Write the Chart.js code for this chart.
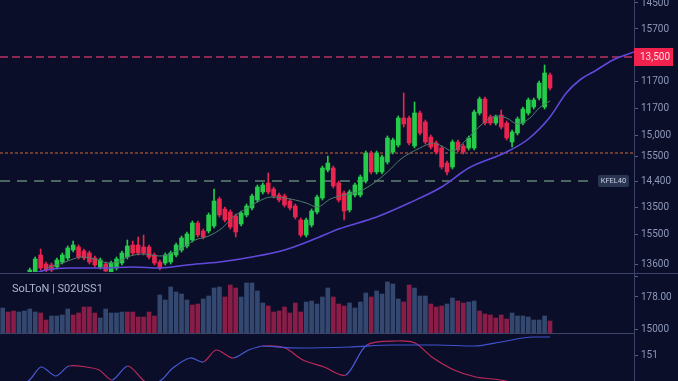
<!DOCTYPE html>
<html>
<head>
<meta charset="utf-8">
<script src="https://cdn.jsdelivr.net/npm/chart.js@4.4.1/dist/chart.umd.min.js"></script>
<style>
  html, body { margin: 0; padding: 0; background: #0a0e28; }
  #wrap { position: relative; width: 678px; height: 381px; overflow: hidden; background: #0a0e28; }
  canvas { position: absolute; left: 0; }
</style>
</head>
<body>
<div id="wrap">
  <canvas id="main" style="top:0" width="678" height="274"></canvas>
  <canvas id="vol" style="top:274px" width="678" height="60"></canvas>
  <canvas id="osc" style="top:334px" width="678" height="47"></canvas>
</div>
<script>
// ---- data ----
const slotCount = 117;     // slots on the time axis (incl. empty space on the right)
const firstCandle = 5;     // first slot that has a visible candle

const open = [
  12980, 12990, 13170, 13080, 13070, 13050, 13100, 13140, 13220, 13250,
  13210, 13190, 13140, 13050, 13080, 13000, 13040, 13090, 13150, 13270,
  13270, 13250, 13250, 13170, 13100, 13090, 13100, 13170, 13220, 13260,
  13320, 13490, 13410, 13410, 13460, 13730, 13630, 13600, 13560, 13480,
  13570, 13640, 13720, 13800, 13890, 13830, 13770, 13760, 13710, 13660,
  13520, 13370, 13470, 13600, 13740, 14020, 14040, 13890, 13790, 13620,
  13770, 13770, 13910, 14190, 14000, 14000, 14100, 14200, 14270, 14540,
  14540, 14260, 14590, 14500, 14350, 14290, 14240, 14090, 14050, 14300,
  14260, 14240, 14240, 14590, 14730, 14550, 14490, 14570, 14490, 14300,
  14390, 14490, 14590, 14650, 14740, 14650, 14970
];
const close = [
  13020, 13130, 13040, 13020, 13020, 13120, 13170, 13240, 13270, 13150,
  13140, 13100, 13070, 13120, 13010, 13090, 13130, 13190, 13260, 13190,
  13190, 13190, 13150, 13090, 13040, 13170, 13190, 13270, 13340, 13380,
  13490, 13370, 13350, 13570, 13710, 13570, 13520, 13450, 13400, 13590,
  13660, 13760, 13850, 13870, 13800, 13760, 13720, 13670, 13640, 13550,
  13370, 13520, 13610, 13750, 14040, 14090, 13860, 13720, 13610, 13800,
  13870, 13950, 14190, 14000, 14190, 14150, 14340, 14320, 14540, 14480,
  14290, 14590, 14390, 14300, 14250, 14200, 14050, 14000, 14300, 14220,
  14200, 14340, 14600, 14730, 14490, 14490, 14550, 14450, 14340, 14400,
  14530, 14630, 14720, 14720, 14890, 14990, 14840
];
const high = [
  13040, 13150, 13230, 13100, 13090, 13140, 13190, 13260, 13310, 13270,
  13230, 13210, 13160, 13140, 13100, 13110, 13150, 13210, 13320, 13310,
  13350, 13370, 13270, 13190, 13120, 13190, 13210, 13290, 13360, 13400,
  13510, 13510, 13430, 13590, 13830, 13750, 13650, 13620, 13580, 13610,
  13680, 13780, 13870, 13890, 13990, 13850, 13790, 13780, 13730, 13680,
  13540, 13540, 13630, 13770, 14060, 14160, 14060, 13910, 13810, 13820,
  13890, 13970, 14210, 14210, 14210, 14170, 14360, 14340, 14560, 14790,
  14560, 14700, 14610, 14520, 14370, 14310, 14260, 14110, 14320, 14320,
  14280, 14360, 14620, 14750, 14750, 14570, 14570, 14620, 14510, 14420,
  14550, 14650, 14740, 14740, 14910, 15070, 14990
];
const low = [
  12960, 12970, 13020, 13000, 13000, 13030, 13080, 13120, 13200, 13130,
  13120, 13080, 13050, 13030, 12990, 12980, 13020, 13070, 13130, 13170,
  13170, 13170, 13130, 13070, 13020, 13070, 13080, 13150, 13200, 13240,
  13300, 13350, 13330, 13390, 13440, 13550, 13500, 13430, 13350, 13460,
  13550, 13620, 13700, 13780, 13780, 13740, 13700, 13650, 13620, 13530,
  13350, 13350, 13450, 13580, 13720, 14000, 13840, 13700, 13520, 13600,
  13750, 13750, 13890, 13980, 13980, 13980, 14080, 14180, 14250, 14450,
  14270, 14240, 14370, 14280, 14230, 14180, 14030, 13970, 14030, 14200,
  14180, 14220, 14220, 14570, 14470, 14470, 14470, 14430, 14320, 14250,
  14370, 14470, 14570, 14630, 14720, 14630, 14820
];

// moving averages (slot, price)
const maFastX = [8, 10.5, 12.5, 14.5, 17, 19.5, 21, 23.5, 26, 29, 32.5, 35.5, 38, 40.5, 42.5, 44.5, 47, 49.5, 52, 54,
                 56, 58, 60.5, 63, 66, 68.5, 71, 73.5, 77, 79.5, 81, 83, 85.5, 88.5, 91, 93, 95, 97.5, 99, 101];
const maFastY = [13040, 13080, 13120, 13150, 13130, 13090, 13100, 13160, 13180, 13160, 13220, 13320, 13360, 13440, 13550, 13620, 13700, 13750, 13740, 13720,
                 13690, 13650, 13730, 13770, 13810, 13890, 14000, 14130, 14240, 14290, 14260, 14210, 14320, 14480, 14560, 14540, 14480, 14550, 14640, 14710];
const maSlowX = [4, 6, 8, 12, 18, 24, 29, 34, 40, 46, 52, 58, 62, 69, 75, 81, 86, 93, 97, 101, 104, 106.5, 109.6, 112.6, 116.5];
const maSlowY = [12970, 12990, 13020, 13040, 13040, 13050, 13040, 13070, 13100, 13150, 13220, 13340, 13430, 13550, 13690, 13850, 14040, 14200, 14330, 14550, 14790, 14920, 15020, 15120, 15200];

// horizontal levels
const levelPrices = [15150, 14190, 13910];
const levelEnds = [116.5, 116.5, 108.4];
const levelBoxLabel = '13,500';
const levelTagLabel = 'KFEL40';

// price axis
const priceTicks = [15690, 15430, 15150, 14910, 14640, 14370, 14160, 13910, 13650, 13380, 13080];
const priceLabels = ['14500', '15700', '', '11700', '11700', '15,000', '15500', '14,400', '13500', '15500', '13600'];

// volume pane
const volume = [
  25000, 21000, 22000, 21000, 22000, 24000, 21000, 20000, 13000, 17000,
  17000, 18000, 24000, 18000, 20000, 26000, 26000, 20000, 15000, 24000,
  20000, 20000, 21000, 21000, 21000, 16000, 16000, 21000, 17000, 38000,
  33000, 46000, 41000, 39000, 33000, 28000, 29000, 34000, 37000, 45000,
  46000, 36000, 48000, 45000, 36000, 50000, 50000, 42000, 30000, 27000,
  21000, 22000, 26000, 20000, 30000, 21000, 31000, 32000, 29000, 36000,
  45000, 36000, 29000, 27000, 30000, 25000, 31000, 40000, 36000, 42000,
  39000, 51000, 49000, 34000, 31000, 48000, 45000, 37000, 37000, 29000,
  26000, 27000, 29000, 35000, 32000, 30000, 31000, 32000, 22000, 19000,
  18000, 15000, 18000, 14000, 20000, 17000, 17000, 16000, 13000, 13000,
  17000, 12000
];
// 1 = buy (blue), 0 = sell (red)
const volumeUp = [
  1, 0, 0, 1, 1, 1, 1, 0, 0, 1,
  1, 1, 1, 0, 0, 0, 0, 0, 1, 1,
  1, 1, 1, 0, 0, 0, 0, 0, 0, 1,
  1, 1, 1, 1, 1, 0, 0, 1, 1, 1,
  1, 0, 0, 0, 1, 1, 1, 1, 1, 0,
  0, 0, 0, 0, 0, 0, 1, 1, 1, 1,
  1, 0, 0, 0, 1, 1, 1, 1, 0, 1,
  1, 1, 1, 1, 0, 0, 1, 1, 1, 0,
  0, 0, 1, 1, 0, 0, 1, 1, 0, 0,
  0, 0, 0, 0, 1, 1, 1, 1, 1, 1,
  1, 0
];
const volTicks = [57000, 36000, 4000];
const volLabels = ['', '178.00', '15000'];
const volTitle = 'SoLToN | S02USS1';

// oscillator pane
const oscX = [0, 4.7, 7.1, 9.8, 12.2, 15.4, 17.8, 20.2, 23.1, 25.9, 27.5, 29.5, 31.4, 34.6, 37, 39.4, 42.5, 45.4, 48.2, 52.1,
              55.4, 59.3, 63.3, 67.2, 72.9, 76.1, 79.2, 83.3, 87.3, 91.9, 95];
const oscY = [-8, 0, 14, 5, 15, 14, 11, 1, 15, 1, -4, 2, 13, 23, 19, 31, 23, 31, 35, 33,
              21, 14, 6, 36, 40, 38, 24, 11, 4, 1, -3];
// colour of the segment that starts at each point: 1 = red, 0 = blue
const oscRed = [0, 0, 0, 0, 1, 1, 1, 0, 1, 1, 0, 0, 0, 0, 1, 1, 0, 0, 1, 1,
                1, 1, 0, 1, 1, 1, 1, 1, 1, 1, 1];
const sigX = [48, 55, 64, 72, 80, 87, 92, 96, 98, 101];
const sigY = [35, 33, 34, 36, 36, 35, 39, 43, 44, 44];
const oscTicks = [26];
const oscLabels = ['151'];

// ---- styling ----
const GREEN = '#25cc4b', RED = '#e8244f';
const AXIS = '#3b4468', TICK_TXT = '#8e98ba';
const FONT = { family: 'Roboto', size: 10 };

function rightAxis(min, max, ticks, labels) {
  return {
    position: 'right', min: min, max: max,
    afterBuildTicks: s => { s.ticks = ticks.map(v => ({ value: v })); },
    afterFit: s => { s.width = 44; s.paddingTop = 0; s.paddingBottom = 0; },
    ticks: { autoSkip: false, color: TICK_TXT, font: FONT, padding: 3, callback: (v, i) => labels[i] },
    grid: { drawOnChartArea: false, drawTicks: true, tickLength: 4, color: '#56608a' },
    border: { display: true, color: AXIS }
  };
}
const xAxis = { type: 'linear', min: -0.5, max: slotCount - 0.5, display: false, offset: false };
const base = {
  responsive: false, animation: false, events: [],
  plugins: { legend: { display: false }, tooltip: { enabled: false } }
};

const pts = (xs, ys) => xs.map((x, i) => ({ x: x, y: ys[i] }));
const candleCol = open.map((o, i) => close[i] >= o ? GREEN : RED);

// ---- main price pane ----
const levelStyles = [
  { color: '#b9335f', dash: [8, 4], width: 1.3 },
  { color: '#cf6639', dash: [3, 2], width: 1 },
  { color: '#62827a', dash: [10, 7], width: 1.5 }
];
const levelSets = levelPrices.map((p, i) => ({
  type: 'line', data: [{ x: -0.5, y: p }, { x: levelEnds[i], y: p }],
  borderColor: levelStyles[i].color, borderDash: levelStyles[i].dash, borderWidth: levelStyles[i].width,
  pointRadius: 0, order: 6
}));

const mainDecor = {
  id: 'mainDecor',
  afterDraw(chart) {
    const ctx = chart.ctx, y = chart.scales.y, right = chart.chartArea.right;
    ctx.save();
    // separator + axis line down to pane edge
    ctx.strokeStyle = AXIS; ctx.lineWidth = 1;
    ctx.beginPath(); ctx.moveTo(0, 273.5); ctx.lineTo(678, 273.5);
    ctx.moveTo(right + 0.5, chart.chartArea.bottom); ctx.lineTo(right + 0.5, 274); ctx.stroke();
    // current price box
    const yb = y.getPixelForValue(levelPrices[0]);
    ctx.fillStyle = '#f2224f';
    ctx.fillRect(right, yb - 9, 39, 18);
    ctx.fillStyle = '#ffd9e0'; ctx.font = '10px Roboto'; ctx.textBaseline = 'middle'; ctx.textAlign = 'left';
    ctx.fillText(levelBoxLabel, right + 6, yb + 0.5);
    // level tag
    const yt = y.getPixelForValue(levelPrices[2]);
    ctx.fillStyle = '#2a3552';
    ctx.beginPath(); ctx.roundRect(598, yt - 6, 31, 12, 2); ctx.fill();
    ctx.fillStyle = '#c9d2e6'; ctx.font = '7.5px Roboto'; ctx.textAlign = 'center';
    ctx.fillText(levelTagLabel, 613.5, yt + 0.5);
    ctx.restore();
  }
};

new Chart(document.getElementById('main'), {
  type: 'bar',
  data: {
    datasets: [
      ...levelSets,
      { type: 'bar', data: open.map((o, i) => ({ x: firstCandle + i, y: [low[i], high[i]] })),
        backgroundColor: candleCol, barThickness: 1, grouped: false, order: 5 },
      { type: 'bar', data: open.map((o, i) => ({ x: firstCandle + i, y: [o, close[i]] })),
        backgroundColor: candleCol, barThickness: 4, grouped: false, order: 4 },
      { type: 'line', data: pts(maFastX, maFastY), borderColor: '#4f7d6c', borderWidth: 1,
        pointRadius: 0, cubicInterpolationMode: 'monotone', order: 3 },
      { type: 'line', data: pts(maSlowX, maSlowY), borderColor: '#6149dc', borderWidth: 1.6,
        pointRadius: 0, cubicInterpolationMode: 'monotone', order: 2 }
    ]
  },
  options: {
    ...base,
    layout: { padding: { top: 0, left: 0, right: 0, bottom: 2 } },
    scales: { x: xAxis, y: rightAxis(13000, 15720, priceTicks, priceLabels) }
  },
  plugins: [mainDecor]
});

// ---- volume pane ----
const volDecor = {
  id: 'volDecor',
  afterDraw(chart) {
    const ctx = chart.ctx;
    ctx.save();
    ctx.strokeStyle = AXIS; ctx.lineWidth = 1;
    ctx.beginPath(); ctx.moveTo(0, 59.5); ctx.lineTo(chart.chartArea.right, 59.5); ctx.stroke();
    ctx.fillStyle = '#aeb7cf'; ctx.font = '11px Roboto'; ctx.textBaseline = 'middle';
    ctx.fillText(volTitle, 12, 15);
    ctx.restore();
  }
};
new Chart(document.getElementById('vol'), {
  type: 'bar',
  data: {
    datasets: [{
      data: volume.map((v, i) => ({ x: i, y: v })),
      backgroundColor: volumeUp.map(u => u ? '#34486f' : '#891d47'),
      barThickness: 4
    }]
  },
  options: {
    ...base,
    layout: { padding: { top: 0, left: 0, right: 0, bottom: 1 } },
    scales: { x: xAxis, y: rightAxis(0, 59000, volTicks, volLabels) }
  },
  plugins: [volDecor]
});

// ---- oscillator pane ----
new Chart(document.getElementById('osc'), {
  type: 'line',
  data: {
    datasets: [
      { data: pts(sigX, sigY), borderColor: '#4352cf', borderWidth: 1.2, pointRadius: 0,
        cubicInterpolationMode: 'monotone' },
      { data: pts(oscX, oscY), borderWidth: 1.2, pointRadius: 0, tension: 0.3,
        borderColor: '#4a5ad8',
        segment: { borderColor: c => oscRed[c.p0DataIndex] ? '#bd2a5c' : '#4a5ad8' } }
    ]
  },
  options: {
    ...base,
    layout: { padding: 0 },
    scales: { x: xAxis, y: rightAxis(0, 47, oscTicks, oscLabels) }
  }
});
</script>
</body>
</html>
